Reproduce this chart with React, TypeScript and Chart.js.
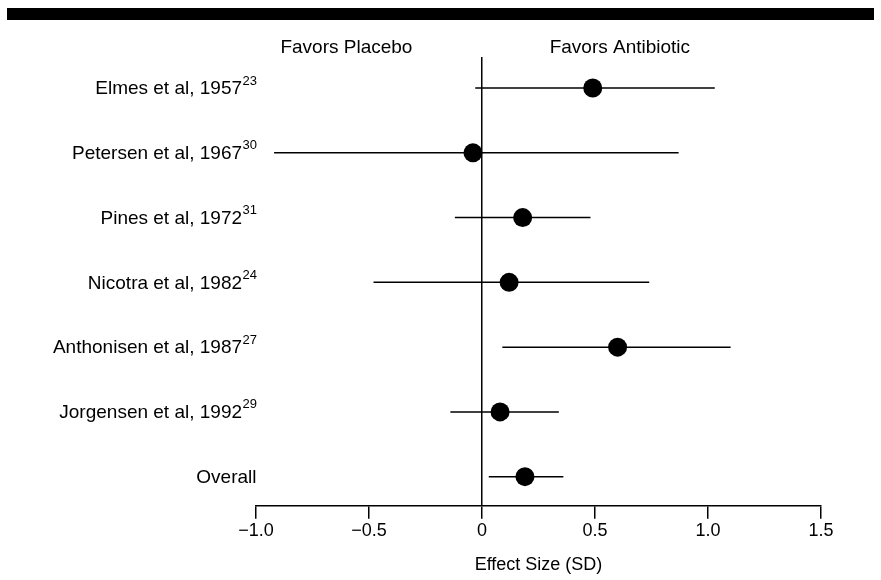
import React, { useEffect, useRef } from "react";
import { Chart, registerables } from "chart.js";

Chart.register(...registerables);

const studies = [
  "Elmes et al, 1957",
  "Petersen et al, 1967",
  "Pines et al, 1972",
  "Nicotra et al, 1982",
  "Anthonisen et al, 1987",
  "Jorgensen et al, 1992",
  "Overall",
];
const refs = ["23", "30", "31", "24", "27", "29", ""];
const effect = [0.49, -0.04, 0.18, 0.12, 0.6, 0.08, 0.19];
const lower = [-0.03, -0.92, -0.12, -0.48, 0.09, -0.14, 0.03];
const upper = [1.03, 0.87, 0.48, 0.74, 1.1, 0.34, 0.36];
const xTicks = [-1.0, -0.5, 0, 0.5, 1.0, 1.5];
const sideLabels = ["Favors Placebo", "Favors Antibiotic"];
const axisTitle = "Effect Size (SD)";

const FONT = "'Liberation Sans', Arial, Helvetica, sans-serif";

export default function App() {
  const ref = useRef<HTMLCanvasElement | null>(null);

  useEffect(() => {
    const canvas = ref.current;
    if (!canvas) return;

    const ciSets = studies.map((s, i) => ({
      label: s + " CI",
      data: [
        { x: lower[i], y: i },
        { x: upper[i], y: i },
      ],
      showLine: true,
      borderColor: "#000",
      borderWidth: 1.5,
      pointRadius: 0,
      order: 2,
    }));

    const pointSet = {
      label: "Effect",
      data: effect.map((v, i) => ({ x: v, y: i })),
      pointRadius: 9.5,
      pointBackgroundColor: "#000",
      pointBorderColor: "#000",
      pointBorderWidth: 0,
      showLine: false,
      order: 1,
    };

    const decor = {
      id: "decor",
      afterDraw(chart: any) {
        const ctx = chart.ctx;
        const xs = chart.scales.x;
        const ys = chart.scales.y;
        ctx.save();
        // top rule
        ctx.fillStyle = "#000";
        ctx.fillRect(7, 8, 867, 12);
        // side labels
        ctx.font = `19px ${FONT}`;
        ctx.textAlign = "center";
        ctx.textBaseline = "middle";
        ctx.fillText(sideLabels[0], xs.getPixelForValue(-0.6), 48);
        ctx.fillText(sideLabels[1], xs.getPixelForValue(0.61), 48);
        // study labels with superscripts
        const rightEdge = xs.left + 1;
        studies.forEach((s, i) => {
          const y = ys.getPixelForValue(i);
          ctx.font = `13px ${FONT}`;
          const supW = refs[i] ? ctx.measureText(refs[i]).width : 0;
          ctx.textAlign = "left";
          ctx.textBaseline = "middle";
          if (refs[i]) ctx.fillText(refs[i], rightEdge - supW, y - 7);
          ctx.font = `19px ${FONT}`;
          ctx.textAlign = "right";
          ctx.fillText(s, rightEdge - supW - 0.5, y + 1);
        });
        ctx.restore();
      },
    };

    const chart = new Chart(canvas, {
      type: "scatter",
      data: { datasets: [...ciSets, pointSet] as any },
      options: {
        animation: false,
        responsive: false,
        maintainAspectRatio: false,
        layout: { padding: { left: 256, right: 60, top: 57, bottom: 4 } },
        plugins: {
          legend: { display: false },
          tooltip: { enabled: false },
        },
        scales: {
          x: {
            type: "linear",
            min: -1,
            max: 1.5,
            afterBuildTicks: (scale: any) => {
              scale.ticks = xTicks.map((v) => ({ value: v }));
            },
            border: { display: true, color: "#000", width: 1.5 },
            grid: {
              drawOnChartArea: true,
              drawTicks: true,
              tickLength: 13,
              tickWidth: 1.5,
              tickColor: "#000",
              color: (c: any) => (c.tick && c.tick.value === 0 ? "#000" : "rgba(0,0,0,0)"),
              lineWidth: 1.5,
            },
            ticks: {
              color: "#000",
              font: { family: FONT, size: 18 },
              padding: 1,
              maxRotation: 0,
              callback: (v: any) => {
                const n = Number(v);
                if (n === 0) return "0";
                return (n < 0 ? "\u2212" : "") + Math.abs(n).toFixed(1);
              },
            },
            title: {
              display: true,
              text: axisTitle,
              color: "#000",
              font: { family: FONT, size: 18 },
              padding: { top: 12, bottom: 0 },
            },
          },
          y: {
            type: "linear",
            min: -0.48,
            max: 6.45,
            reverse: true,
            display: false,
          },
        },
      },
      plugins: [decor],
    });

    return () => chart.destroy();
  }, []);

  return (
    <div style={{ position: "absolute", left: 0, top: 0, width: 881, height: 580, background: "#fff" }}>
      <canvas ref={ref} width={881} height={580} style={{ width: 881, height: 580 }} />
    </div>
  );
}
